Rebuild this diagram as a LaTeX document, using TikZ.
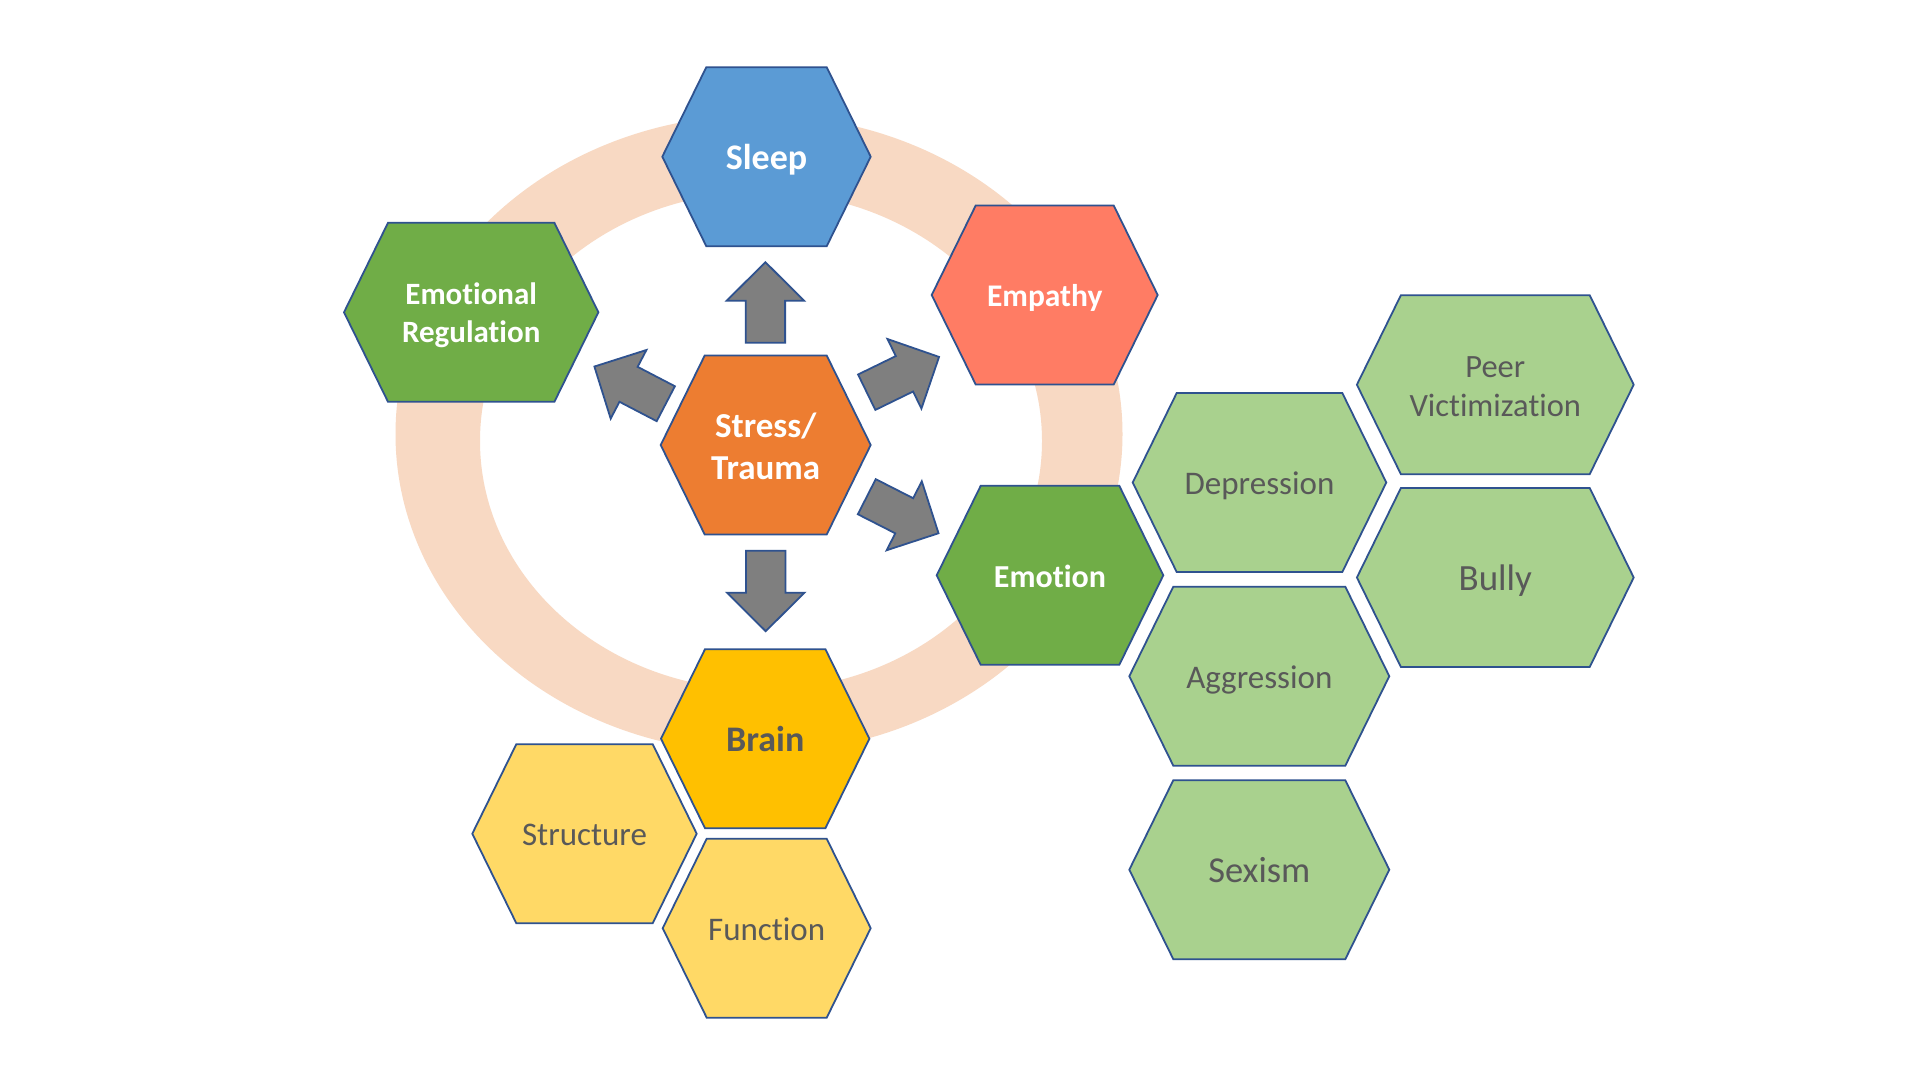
\documentclass[tikz,border=0pt]{standalone}
\usepackage{fontspec}
\setmainfont{Carlito}[Ligatures={NoCommon}]
\definecolor{hexline}{HTML}{2F528F}
\definecolor{ringc}{HTML}{F8D9C3}
\definecolor{sleepc}{HTML}{5B9BD5}
\definecolor{stressc}{HTML}{ED7D31}
\definecolor{greenc}{HTML}{70AD47}
\definecolor{empathyc}{HTML}{FF7C64}
\definecolor{brainc}{HTML}{FFC000}
\definecolor{goldlight}{HTML}{FFD966}
\definecolor{greenlight}{HTML}{A9D18E}
\definecolor{arrowc}{HTML}{7F7F7F}
\definecolor{txtgray}{HTML}{595959}
\tikzset{
  hexborder/.style={draw=hexline, line width=1.8pt, line join=miter},
  oneline/.style={text height=#1*0.64pt, text depth=0pt, yshift=-1.5pt},
  twoline/.style={yshift=-#1pt},
  maintext/.style 2 args={text=white, font=\bfseries\fontsize{#1}{#2}\selectfont, inner sep=0pt, align=center},
  braintext/.style 2 args={text=txtgray, font=\bfseries\fontsize{#1}{#2}\selectfont, inner sep=0pt, align=center},
  subtext/.style 2 args={text=txtgray, font=\fontsize{#1}{#2}\selectfont, inner sep=0pt, align=center},
  blockarrow/.style={fill=arrowc, draw=hexline, line width=1.8pt, line join=miter}
}
\newcommand\hexa[7]{%
  \begin{scope}[shift={(#2,#3)}]
    \pgfmathsetmacro\hexW{#4}\pgfmathsetmacro\hexI{#4-44}
    \filldraw[hexborder, fill=#5] (-\hexW,0) -- (-\hexI,-89.5) -- (\hexI,-89.5) -- (\hexW,0) -- (\hexI,89.5) -- (-\hexI,89.5) -- cycle;
  \end{scope}
  \node[#6] (#1) at (#2,#3) {#7};
}
\newcommand\barrow[3]{%
  \begin{scope}[shift={(#1)}, rotate=#2]
    \coordinate (#3) at (0,0);
    \filldraw[blockarrow] (0,-19.7) -- (42,-19.7) -- (42,-38.7) -- (80.5,0) -- (42,38.7) -- (42,19.7) -- (0,19.7) -- cycle;
  \end{scope}
}
\begin{document}
\begin{tikzpicture}[x=1pt, y=-1pt]
\useasboundingbox (0,0) rectangle (1920,1080);
\fill[white] (0,0) rectangle (1920,1080);
% ring
\fill[ringc, even odd rule] (759,434) ellipse [x radius=363.5, y radius=319] (761,441) ellipse [x radius=281, y radius=249];
% hexagons
\hexa{sleep}{766.5}{156.7}{104.2}{sleepc}{maintext={36}{43}, oneline=36}{Sleep}
\hexa{stress}{765.7}{445}{105}{stressc}{maintext={35}{42.5}, twoline=1.5}{Stress/\\Trauma}
\hexa{emoreg}{471.2}{312.3}{127.2}{greenc}{maintext={31}{38}, twoline=3}{Emotional\\Regulation}
\hexa{empathy}{1044.7}{295}{113}{empathyc}{maintext={31.5}{38}, oneline=31.5}{Empathy}
\hexa{emotion}{1050}{575.3}{113.3}{greenc}{maintext={32}{38}, oneline=32}{Emotion}
\hexa{brain}{765.2}{738.7}{104.2}{brainc}{braintext={36}{43}, oneline=36}{Brain}
\hexa{structure}{584.5}{833.7}{112.2}{goldlight}{subtext={33}{40}, oneline=33}{Structure}
\hexa{function}{766.7}{928.2}{104}{goldlight}{subtext={33}{40}, oneline=33}{Function}
\hexa{depression}{1259.5}{482.5}{126.8}{greenlight}{subtext={33}{40}, oneline=33}{Depression}
\hexa{aggression}{1259.3}{676.2}{130}{greenlight}{subtext={33}{40}, oneline=33}{Aggression}
\hexa{sexism}{1259.3}{869.7}{130}{greenlight}{subtext={36.5}{44}, oneline=36.5}{Sexism}
\hexa{peer}{1495.3}{384.7}{138.4}{greenlight}{subtext={32.5}{38.5}, twoline=2}{Peer\\Victimization}
\hexa{bully}{1495.3}{577.5}{138.4}{greenlight}{subtext={37}{44}, oneline=37}{Bully}
% block arrows
\barrow{765.4,342.7}{90}{aup}
\barrow{765.7,550.7}{-90}{adown}
\barrow{866.7,392.2}{26}{aur}
\barrow{665.8,403.7}{152.5}{aul}
\barrow{866.8,496.7}{-27}{adr}
\end{tikzpicture}
\end{document}
